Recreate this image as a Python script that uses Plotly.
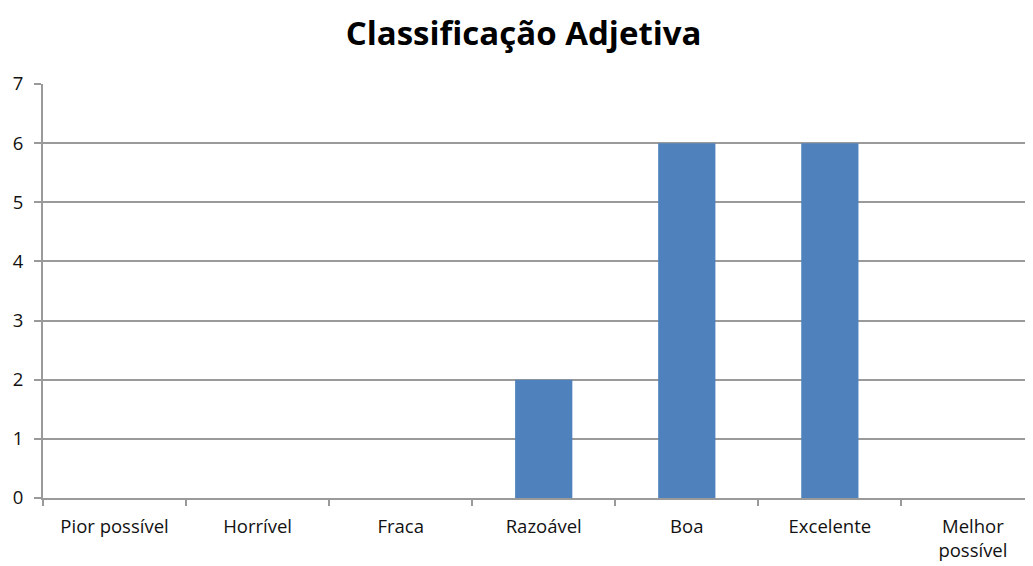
import plotly.graph_objects as go

categories = ["Pior possível", "Horrível", "Fraca", "Razoável", "Boa", "Excelente", "Melhor<br>possível"]
values = [0, 0, 0, 2, 6, 6, 0]
y_ticks = [0, 1, 2, 3, 4, 5, 6, 7]

fig = go.Figure()
fig.add_trace(go.Bar(x=categories, y=values, marker=dict(color="#4f81bd", line=dict(width=0)), width=0.4))

fig.update_layout(
    width=1025, height=558,
    margin=dict(l=35, r=0, t=76, b=68, autoexpand=False),
    paper_bgcolor="white", plot_bgcolor="white",
    title=dict(text="<b>Classificação Adjetiva</b>", x=0.503, xanchor="center", y=0.955, yref="container",
               yanchor="middle",
               font=dict(family="Open Sans, Noto Sans, sans-serif", size=33, color="black")),
    font=dict(family="Open Sans, Noto Sans, sans-serif", size=14, color="#111"),
    showlegend=False,
)
fig.update_xaxes(
    type="category", range=[-0.5, 6.42], tickson="boundaries",
    ticks="outside", ticklen=6, tickcolor="#9a9a9a", tickwidth=2,
    showline=True, linecolor="#9a9a9a", linewidth=2, showgrid=False,
    tickfont=dict(size=18.5), ticklabelstandoff=11,
)
fig.update_yaxes(
    range=[0, 7], tickvals=y_ticks, ticks="outside", ticklen=7, tickcolor="#9a9a9a", tickwidth=2,
    showline=True, linecolor="#9a9a9a", linewidth=2,
    showgrid=True, gridcolor="#9a9a9a", gridwidth=2, zeroline=False,
    tickfont=dict(size=18.5), ticklabelstandoff=7,
)

fig.write_html("out.html")
